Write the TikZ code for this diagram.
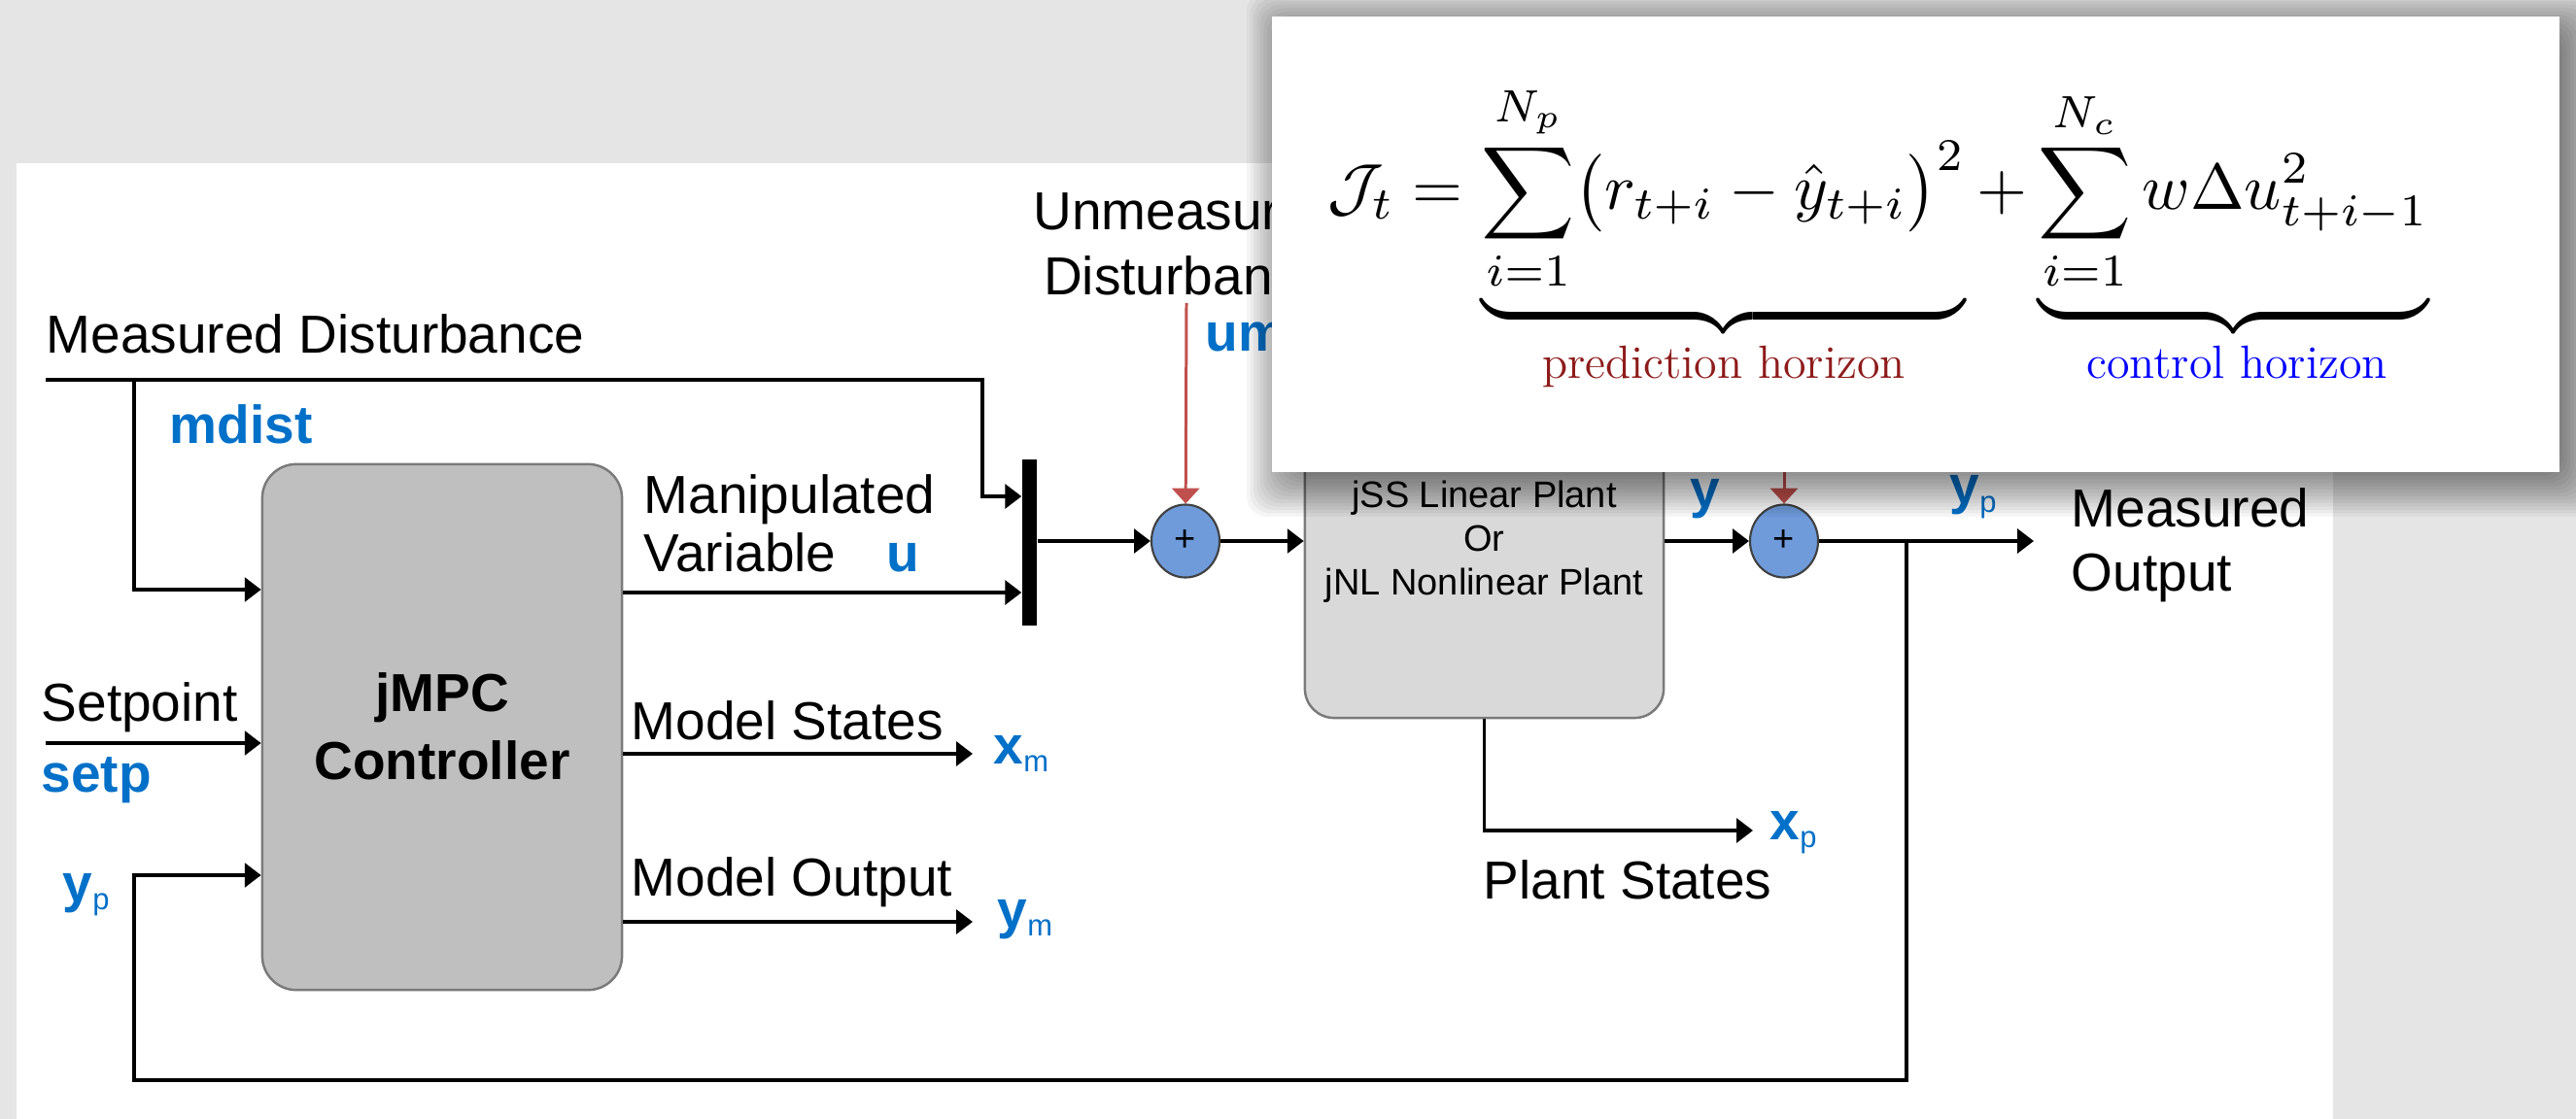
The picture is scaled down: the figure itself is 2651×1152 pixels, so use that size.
\documentclass[tikz,border=0pt]{standalone}
\usepackage{amsmath}
\usepackage{fontspec}
\usetikzlibrary{arrows.meta,shapes.geometric,calc}
\newfontfamily\arialf{Liberation Sans}
\definecolor{bgray}{HTML}{E5E5E5}
\definecolor{lblue}{HTML}{0070C8}
\definecolor{sumfill}{HTML}{6F9BDB}
\definecolor{redarr}{HTML}{C0504D}
\definecolor{ctrlfill}{HTML}{BFBFBF}
\definecolor{plantfill}{HTML}{D9D9D9}
\definecolor{boxedge}{HTML}{7A7A7A}
\definecolor{predred}{HTML}{8E1B1B}
\newcommand\bsub[2]{#1\raisebox{-2.3pt}{\mdseries\fontsize{8.8pt}{9pt}\selectfont #2}}
\tikzset{
  lbl/.style={font=\arialf\fontsize{15.65pt}{18pt}\selectfont, inner sep=0pt, anchor=base west},
  blbl/.style={lbl, text=lblue, font=\arialf\bfseries\fontsize{15.65pt}{18pt}\selectfont},
  wire/.style={line width=1.1pt},
  arr/.style={wire, -{Triangle[length=4.8pt,width=7pt]}},
  rarr/.style={line width=0.85pt, draw=redarr, -{Triangle[length=4.5pt,width=8pt]}},
  summer/.style={ellipse, draw=black!75, line width=0.6pt, fill=sumfill,
    minimum width=0.70cm, minimum height=0.75cm, inner sep=0pt,
    font=\arialf\fontsize{10.8pt}{11pt}\selectfont},
  blockbox/.style={rectangle, draw=boxedge, line width=0.7pt, inner sep=0pt},
}
\begin{document}
\begin{tikzpicture}[x=0.01cm,y=-0.01cm]
\useasboundingbox (0,0) rectangle (2651,1152);
\clip (0,0) rectangle (2651,1152);
\fill[bgray] (0,0) rectangle (2651,1152);
\fill[white] (17,168) rectangle (2401,1152);

% blocks
\node[blockbox, fill=ctrlfill, rounded corners=0.35cm, minimum width=3.70cm, minimum height=5.41cm] (ctrl) at (455,748.5) {};
\node[font=\arialf\bfseries\fontsize{15.65pt}{19.9pt}\selectfont, align=center, inner sep=0pt] (ctrlT) at (455,748) {jMPC\\Controller};
\node[blockbox, fill=plantfill, rounded corners=0.3cm, minimum width=3.69cm, minimum height=3.09cm] (plant) at (1527.5,584.5) {};
\node[font=\arialf\fontsize{10.8pt}{12.8pt}\selectfont, align=center, inner sep=0pt] (plantT) at (1527.5,558) {jSS Linear Plant\\Or\\jNL Nonlinear Plant};
\node[fill=black, minimum width=0.15cm, minimum height=1.71cm, inner sep=0pt] (bar) at (1059.5,558.5) {};
\node[summer] (s1) at (1220,557) {+};
\node[summer] (s2) at (1836,557) {+};

% coordinates
\coordinate (mdS) at (47,391);
\coordinate (mdK) at (1011,511);
\coordinate (brT) at (138,391);
\coordinate (brY) at (0,607);
\coordinate (mvY) at (0,610);
\coordinate (spS) at (47,765);
\coordinate (msE) at (1001,776);
\coordinate (moE) at (1001,949);
\coordinate (udS) at (1221,312);
\coordinate (nS) at (1836,440);
\coordinate (outE) at (2093,557);
\coordinate (fbJ) at (1962,557);
\coordinate (fbB) at (1962,1112);
\coordinate (fbL) at (138,1112);
\coordinate (fbY) at (0,901);
\coordinate (xpE) at (1804,855);

% connectors
\draw[arr] (mdS) -| (mdK) -- (bar.west |- mdK);
\draw[arr] (brT) |- (ctrl.west |- brY);
\draw[arr] (ctrl.east |- mvY) -- (bar.west |- mvY);
\draw[arr] (spS) -- (ctrl.west |- spS);
\draw[arr] (ctrl.east |- msE) -- (msE);
\draw[arr] (ctrl.east |- moE) -- (moE);
\draw[arr] (bar.east |- s1) -- (s1);
\draw[rarr] (udS) -- (s1);
\draw[arr] (s1) -- (plant.west |- s1);
\draw[arr] (plant.east |- s2) -- (s2);
\draw[rarr] (nS) -- (s2);
\draw[arr] (s2) -- (outE);
\draw[arr] (fbJ) -- (fbB) -- (fbL) |- (ctrl.west |- fbY);
\draw[arr] (plant.south) |- (xpE);

% labels
\node[lbl] (tMD) at (47,364) {Measured Disturbance};
\node[blbl] (tmdist) at (174,457) {mdist};
\node[lbl] (tMV1) at (662,528) {Manipulated};
\node[lbl] (tMV2) at (662,589) {Variable};
\node[blbl] (tu) at (912,589) {u};
\node[lbl, anchor=base] (tUD1) at (1221,237) {Unmeasured};
\node[lbl, anchor=base] (tUD2) at (1221,304) {Disturbance};
\node[blbl] (tum) at (1240,362) {umdist};
\node[lbl] (tSP) at (42,742) {Setpoint};
\node[blbl] (tsetp) at (42,815) {setp};
\node[lbl] (tMS) at (649,761) {Model States};
\node[blbl] (txm) at (1022,786) {\bsub{x}{m}};
\node[lbl] (tMO) at (649,922) {Model Output};
\node[blbl] (tym) at (1026,955) {\bsub{y}{m}};
\node[blbl] (typl) at (64,928) {\bsub{y}{p}};
\node[blbl] (ty) at (1739,522) {y};
\node[blbl] (typ) at (2006,519) {\bsub{y}{p}};
\node[lbl] (tMO1) at (2131,542) {Measured};
\node[lbl] (tMO2) at (2131,609) {Output};
\node[blbl] (txp) at (1821,864) {\bsub{x}{p}};
\node[lbl] (tPS) at (1526,925) {Plant States};

% formula box with soft drop shadow (offset down-right)
\foreach \k in {1,...,16} {
  \pgfmathsetmacro\ee{-20+3.5*\k}
  \fill[black, opacity=0.04, rounded corners=6pt] ({1319-\ee},{27-\ee}) rectangle ({2644+\ee},{496+\ee});
}
\fill[white] (1309,17) rectangle (2634,486);
\node[anchor=north west, inner sep=0pt] (formula) at (1366,86) {\resizebox{11.32cm}{!}{$\displaystyle
  \mathcal{J}_t = \underbrace{\sum_{i=1}^{N_p} \bigl(r_{t+i} - \hat{y}_{t+i}\bigr)^2} + \underbrace{\sum_{i=1}^{N_c} w\Delta u_{t+i-1}^2}$}};
\node[font=\fontsize{13.66pt}{16pt}\selectfont, text=predred, anchor=base, inner sep=0pt] (lpred) at (1774,390) {prediction horizon};
\node[font=\fontsize{13.66pt}{16pt}\selectfont, text=blue, anchor=base, inner sep=0pt] (lctrl) at (2302,390) {control horizon};
\end{tikzpicture}
\end{document}
